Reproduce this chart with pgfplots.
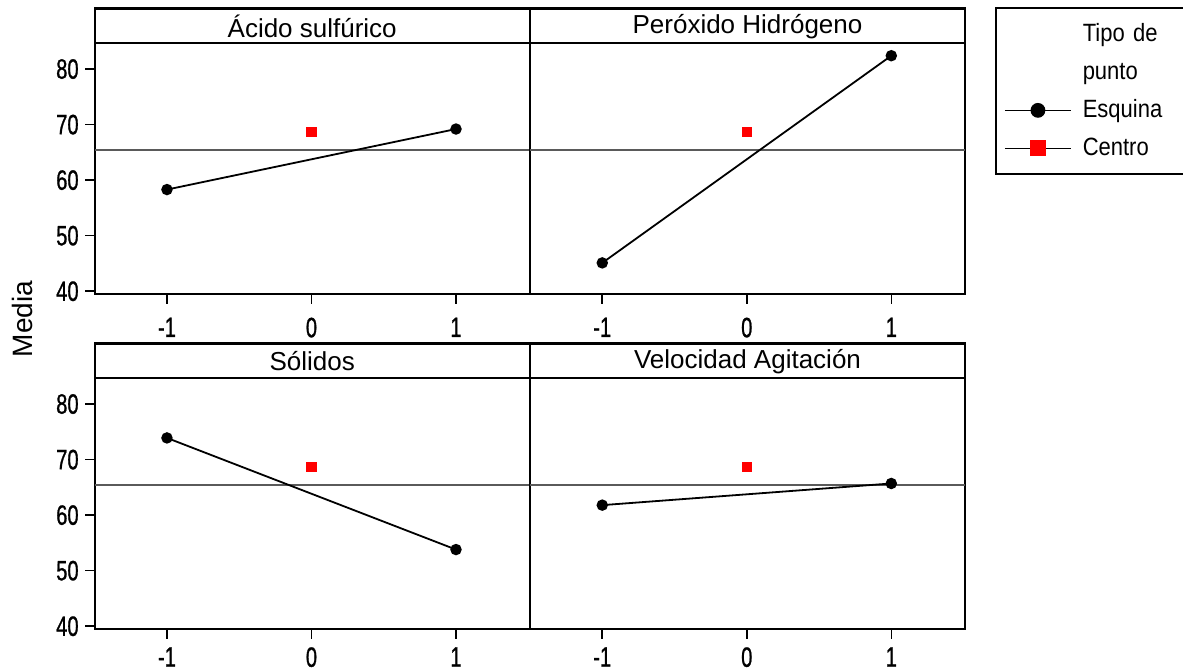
\documentclass[border=0pt]{standalone}
\usepackage{fontspec}
\setmainfont{Liberation Sans}
\newfontfamily\tickfont{Liberation Sans}[FakeStretch=0.72, FakeBold=0.8]
\newfontfamily\legfont{Liberation Sans}[FakeStretch=0.88]
\usepackage{pgfplots}
\pgfplotsset{compat=1.18}
\definecolor{meangray}{RGB}{90,90,90}
\pgfplotsset{
  panel/.style={
    scale only axis, width=217.5pt, height=142.75pt,
    xmin=-1.5, xmax=1.51, ymin=39.5, ymax=90.9,
    xtick={-1,0,1}, xticklabels={-1,0,1},
    ytick={40,50,60,70,80}, yticklabels={40,50,60,70,80},
    xtick pos=lower, ytick pos=left,
    tick align=outside, major tick length=4.8pt,
    axis line style={line width=1.1pt},
    every tick/.style={black, line width=0.8pt},
    ticklabel style={font=\tickfont\fontsize{14}{16}\selectfont},
    yticklabel style={xshift=0.3pt},
    clip=false,
  },
  toprow/.style={xticklabel style={yshift=-3.5pt}},
  botrow/.style={xticklabel style={yshift=-0.8pt}},
  esq/.style={black, line width=0.9pt, mark=*, mark size=2.4pt},
  cen/.style={only marks, mark=square*, mark size=2.4pt, color=red},
  myleg/.style={legend image code/.code={\draw[##1,mark=none] (0pt,0pt) -- (33pt,0pt); \draw[##1] plot coordinates {(16.5pt,0pt)};}},
}
\newcommand{\strip}[1]{%
  \draw[line width=1.1pt] (axis cs:-1.5,84.75) -- (axis cs:1.51,84.75);
  \node[font=\fontsize{13}{15}\selectfont] at (axis cs:0.005,87.7) {#1};
}
\begin{document}
\begin{tikzpicture}
\useasboundingbox (0,0) rectangle (591.5pt,335.5pt);
% top left
\begin{axis}[panel, toprow, at={(47.35pt,188.5pt)}, anchor=south west]
  \addplot[meangray, line width=0.7pt, forget plot] coordinates {(-1.5,65.4) (1.51,65.4)};
  \addplot[esq] coordinates {(-1,58.3) (1,69.2)};
  \addplot[cen] coordinates {(0,68.7)};
  \strip{Ácido sulfúrico}
\end{axis}
% top right
\begin{axis}[panel, toprow, at={(265pt,188.5pt)}, anchor=south west, ytick=\empty,
  legend style={at={(1.0693,1.004)}, anchor=north west, draw=black, line width=1pt,
    font=\legfont\fontsize{12.5}{14}\selectfont,
    nodes={text height=10pt, text depth=3pt, inner ysep=2pt, inner xsep=5.5pt, text width=80pt},
    row sep=2pt, inner xsep=4pt, inner ysep=4.5pt},
  legend cell align=left]
  \addlegendimage{empty legend}\addlegendentry{Tipo de}
  \addlegendimage{empty legend}\addlegendentry{punto}
  \addlegendimage{black, line width=0.8pt, mark=*, mark size=3.3pt, myleg}
  \addlegendentry{Esquina}
  \addlegendimage{black, line width=0.8pt, mark=square*, mark size=3.6pt, mark options={red, draw=red}, myleg}
  \addlegendentry{Centro}
  \addplot[meangray, line width=0.7pt, forget plot] coordinates {(-1.5,65.4) (1.51,65.4)};
  \addplot[esq, forget plot] coordinates {(-1,45.1) (1,82.4)};
  \addplot[cen, forget plot] coordinates {(0,68.7)};
  \strip{Peróxido Hidrógeno}
\end{axis}
% bottom left
\begin{axis}[panel, botrow, at={(47.35pt,21pt)}, anchor=south west]
  \addplot[meangray, line width=0.7pt, forget plot] coordinates {(-1.5,65.4) (1.51,65.4)};
  \addplot[esq] coordinates {(-1,73.9) (1,53.8)};
  \addplot[cen] coordinates {(0,68.7)};
  \strip{Sólidos}
\end{axis}
% bottom right
\begin{axis}[panel, botrow, at={(265pt,21pt)}, anchor=south west, ytick=\empty]
  \addplot[meangray, line width=0.7pt, forget plot] coordinates {(-1.5,65.4) (1.51,65.4)};
  \addplot[esq] coordinates {(-1,61.8) (1,65.7)};
  \addplot[cen] coordinates {(0,68.7)};
  \strip{Velocidad Agitación}
\end{axis}
\node[rotate=90, font=\fontsize{14}{16}\selectfont] at (11pt,176pt) {Media};
\end{tikzpicture}
\end{document}
